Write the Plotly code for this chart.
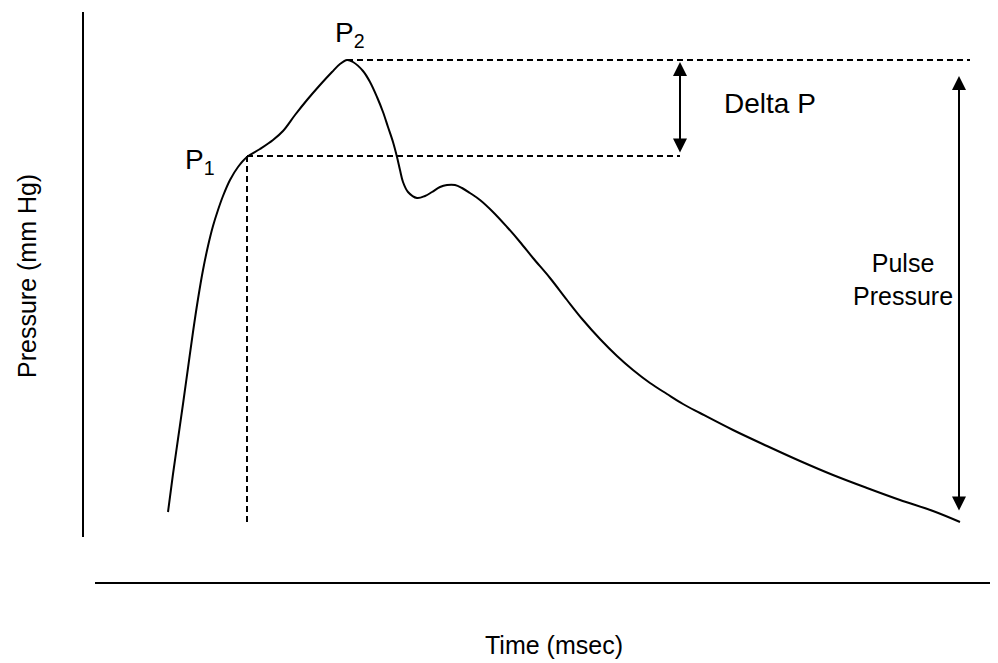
import plotly.graph_objects as go

# Page is shown with an 8px body margin, so the figure is sized to fit and
# its axes ranges are chosen so that data units line up with the picture.
W, H = 998, 663
OFF = 8

# Pressure waveform (x = time units, y = pressure units; both in picture scale)
time = [168, 173, 178, 183, 188, 193, 198, 203, 208, 213, 218, 223, 230, 238, 247,
        260, 273, 283, 295, 307, 320, 332, 340, 347, 353, 363, 370, 377, 383,
        388, 393, 397, 400, 403, 408, 417, 425, 432, 440, 447, 455, 462, 470, 480,
        493, 507, 520, 533, 550, 567, 583, 600, 617, 633, 650, 667, 683, 700, 733,
        767, 800, 833, 867, 900, 933, 960]
pressure_px = [512, 474, 439, 404, 368, 332, 299, 270, 246, 226, 210, 196, 180, 167, 157,
               149, 140, 131, 115, 100, 85, 72, 64, 60, 62, 71, 82, 97, 112,
               127, 142, 157, 170, 182, 192, 198, 196, 192, 187, 185, 185, 188, 193, 200,
               212, 227, 242, 258, 278, 300, 320, 339, 356, 370, 383, 394, 404, 413, 430,
               446, 461, 475, 488, 500, 511, 522]
pressure = [H - v for v in pressure_px]

# Key points
p1_t, p1_p = 247, H - 156
p2_t, p2_p = 347, H - 60
baseline_p = H - 522
delta_end_t = 680
dash_end_t = 970
pulse_t = 959
pulse_top = H - 76
pulse_bot = H - 512

fig = go.Figure()
fig.add_trace(go.Scatter(x=time, y=pressure, mode="lines",
                         line=dict(color="black", width=2, shape="spline", smoothing=1.0),
                         hoverinfo="skip", showlegend=False))

dash = "6px,4px"
for xs, ys in [([p1_t, delta_end_t], [p1_p, p1_p]),
               ([p1_t, p1_t], [p1_p, baseline_p]),
               ([p2_t, dash_end_t], [p2_p, p2_p])]:
    fig.add_trace(go.Scatter(x=xs, y=ys, mode="lines", hoverinfo="skip",
                             line=dict(color="black", width=2, dash=dash), showlegend=False))

# axis lines
fig.add_shape(type="line", x0=83, x1=83, y0=H - 12, y1=H - 537, line=dict(color="black", width=2))
fig.add_shape(type="line", x0=95, x1=998, y0=H - 583, y1=H - 583, line=dict(color="black", width=2))

anns = []
arrow = dict(xref="x", yref="y", axref="x", ayref="y", text="", showarrow=True,
             arrowhead=2, startarrowhead=2, arrowside="end+start", arrowwidth=2,
             arrowsize=1.4, startarrowsize=1.4, arrowcolor="black", standoff=0, startstandoff=0)
anns.append(dict(x=delta_end_t, y=p2_p - 2, ax=delta_end_t, ay=p1_p + 2, **arrow))
anns.append(dict(x=pulse_t, y=pulse_top, ax=pulse_t, ay=pulse_bot, **arrow))

font = dict(family="Liberation Sans, Arial, sans-serif", color="black")
anns.append(dict(x=183, y=H - 161, text="P<sub>1</sub>", showarrow=False, xanchor="left",
                 yanchor="middle", font=dict(size=28, **font)))
anns.append(dict(x=333, y=H - 34, text="P<sub>2</sub>", showarrow=False, xanchor="left",
                 yanchor="middle", font=dict(size=28, **font)))
anns.append(dict(x=770, y=H - 103, text="Delta P", showarrow=False, xanchor="center",
                 yanchor="middle", font=dict(size=28, **font)))
anns.append(dict(x=903, y=H - 279, text="Pulse<br>Pressure", showarrow=False, xanchor="center",
                 yanchor="middle", font=dict(size=25, **font)))
anns.append(dict(x=27, y=H - 276, text="Pressure (mm Hg)", showarrow=False, textangle=-90,
                 xanchor="center", yanchor="middle", font=dict(size=25, **font)))
anns.append(dict(x=554, y=H - 645, text="Time (msec)", showarrow=False, xanchor="center",
                 yanchor="middle", font=dict(size=25, **font)))

fig.update_layout(
    width=W - OFF, height=H - OFF, margin=dict(l=0, r=0, t=0, b=0),
    paper_bgcolor="white", plot_bgcolor="white",
    xaxis=dict(range=[OFF, W], visible=False, fixedrange=True),
    yaxis=dict(range=[0, H - OFF], visible=False, fixedrange=True),
    annotations=anns, showlegend=False,
)

fig.write_html("out.html", config={"displayModeBar": False})
